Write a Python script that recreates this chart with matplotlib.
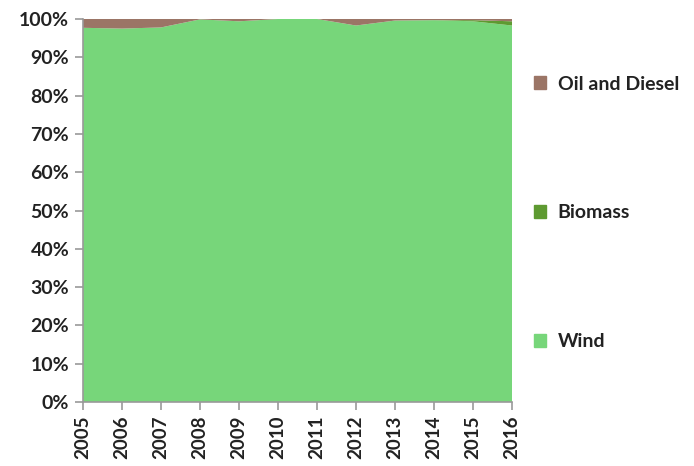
import matplotlib
matplotlib.use("Agg")
import matplotlib.pyplot as plt
import numpy as np
from matplotlib.patches import Patch

years = [2005, 2006, 2007, 2008, 2009, 2010, 2011, 2012, 2013, 2014, 2015, 2016]
wind = [97.7, 97.5, 97.8, 99.9, 99.4, 100.0, 100.0, 98.3, 99.6, 99.7, 99.4, 98.3]
biomass = [0, 0, 0, 0, 0, 0, 0, 0, 0, 0, 0.3, 1.1]
oil = [100 - w - b for w, b in zip(wind, biomass)]

c_wind = "#77d67a"
c_bio = "#5e9a31"
c_oil = "#9b7566"

plt.rcParams['font.family'] = ['Lato', 'DejaVu Sans']
fig = plt.figure(figsize=(6.94, 4.66), dpi=100)
ax = fig.add_axes([83/694, 1-402/466, (512-83)/694, (402-19)/466])
x = np.arange(len(years))
ax.stackplot(x, wind, biomass, oil, colors=[c_wind, c_bio, c_oil], linewidth=0)
ax.set_xlim(0, len(years)-1)
ax.set_ylim(0, 100)
ax.set_yticks(range(0, 101, 10))
ax.set_yticklabels([f"{v}%" for v in range(0, 101, 10)], fontsize=14, fontweight='bold', color='#222222')
ax.set_xticks(x)
ax.set_xticklabels([str(y) for y in years], rotation=90, fontsize=13.5, fontweight='bold', color='#222222')
for s in ['top', 'right']:
    ax.spines[s].set_visible(False)
for s in ['left', 'bottom']:
    ax.spines[s].set_color('#999999')
    ax.spines[s].set_linewidth(1.2)
ax.tick_params(axis='both', color='#999999', length=6, width=1.2, pad=4)

handles = [Patch(color=c_oil), Patch(color=c_bio), Patch(color=c_wind)]
labels = ["Oil and Diesel", "Biomass", "Wind"]
fig.legend(handles, labels, loc='upper left', bbox_to_anchor=(516/694, 1-58/466), frameon=False,
           prop={'size': 14, 'weight': 'bold'}, labelspacing=5.75, handlelength=0.65, handleheight=0.65,
           handletextpad=0.6, labelcolor='#222222')
fig.savefig("out.png", dpi=100)
